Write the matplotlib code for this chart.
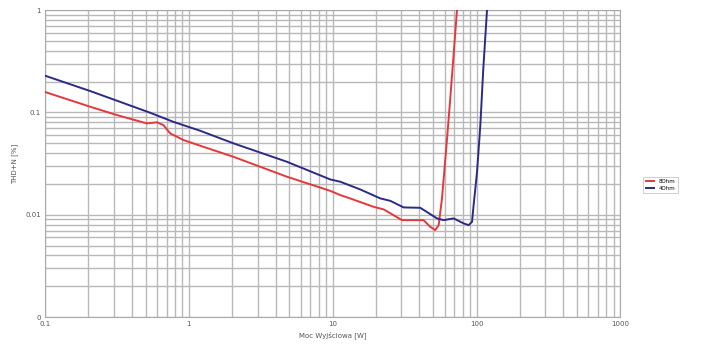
""" THD+N vs output power for 8 and 4 Ohm loads, log-log chart """
import matplotlib as mat
mat.use('agg')
import matplotlib.pyplot as plt
from matplotlib.ticker import FixedLocator, FixedFormatter, LogLocator, NullFormatter

# red curve - 8 Ohm
power_8 = [0.1, 0.2056, 0.3156, 0.51, 0.598, 0.665, 0.741, 0.917, 1.197, 2.04,
           4.8, 9.61, 11.28, 13.2, 19.2, 22.6, 30.3, 42.8, 47.6, 51.6, 54.5,
           57.5, 62.3, 65.7, 73.1]
thd_8 = [0.158, 0.1135, 0.0941, 0.078, 0.0799, 0.0751, 0.0623, 0.0536, 0.0472,
         0.0368, 0.0235, 0.0171, 0.01555, 0.01443, 0.01195, 0.01127, 0.00885,
         0.00885, 0.00762, 0.00707, 0.00791, 0.0145, 0.055, 0.14, 1.0]

# blue curve - 4 Ohm
power_4 = [0.1, 0.2056, 0.3156, 0.5375, 0.777, 1.197, 2.04, 4.8, 9.61, 11.28,
           15.5, 21.4, 25.1, 31.1, 40.6, 53.1, 59.0, 69.3, 81.3, 88.1, 93.0,
           95.4, 100.7, 106.2, 111.4, 118.2]
thd_4 = [0.228, 0.1616, 0.130, 0.0991, 0.0809, 0.0661, 0.0498, 0.0329, 0.0221,
         0.0210, 0.01767, 0.01443, 0.01367, 0.01178, 0.01168, 0.0092, 0.00885,
         0.0092, 0.00822, 0.00791, 0.00853, 0.0125, 0.026, 0.075, 0.27, 1.0]

x_ticks = [0.1, 1, 10, 100, 1000]
x_labels = ['0.1', '1', '10', '100', '1000']
y_ticks = [0.001, 0.01, 0.1, 1]
y_labels = ['0', '0.01', '0.1', '1']

fig = plt.figure(figsize=(7.05, 3.45), dpi=100)
ax = fig.add_axes([0.064, 0.081, 0.816, 0.890])

ax.plot(power_8, thd_8, color='#e5383b', lw=1.4, label='8Ohm', zorder=3)
ax.plot(power_4, thd_4, color='#2b2b86', lw=1.4, label='4Ohm', zorder=3)

ax.set_xscale('log')
ax.set_yscale('log')
ax.set_xlim(0.1, 1000)
ax.set_ylim(0.001, 1)

ax.xaxis.set_major_locator(FixedLocator(x_ticks))
ax.xaxis.set_major_formatter(FixedFormatter(x_labels))
ax.yaxis.set_major_locator(FixedLocator(y_ticks))
ax.yaxis.set_major_formatter(FixedFormatter(y_labels))
ax.xaxis.set_minor_locator(LogLocator(base=10, subs=range(2, 10)))
ax.yaxis.set_minor_locator(LogLocator(base=10, subs=range(2, 10)))
ax.xaxis.set_minor_formatter(NullFormatter())
ax.yaxis.set_minor_formatter(NullFormatter())

ax.grid(True, which='both', color='#b8b8b8', lw=1.0)
ax.tick_params(which='both', length=0, labelsize=5, colors='#555555', pad=3)
for s in ax.spines.values():
    s.set_color('#aaaaaa')
    s.set_linewidth(0.8)

ax.set_xlabel('Moc Wyjściowa [W]', fontsize=5, color='#555555', labelpad=3)
ax.set_ylabel('THD+N [%]', fontsize=5, color='#555555', labelpad=5)

leg = ax.legend(loc='center left', bbox_to_anchor=(1.035, 0.43), fontsize=4,
                handlelength=1.6, frameon=True, fancybox=False, borderpad=0.4,
                labelspacing=0.4)
leg.get_frame().set_edgecolor('#bbbbbb')
leg.get_frame().set_linewidth(0.6)

fig.savefig('out.png', dpi=100)
